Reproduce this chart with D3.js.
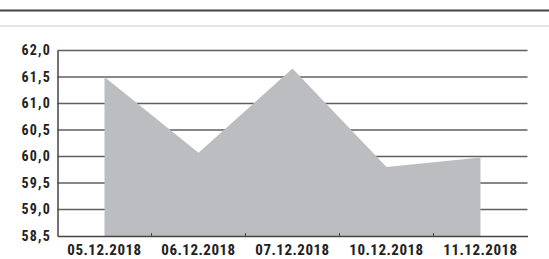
<!DOCTYPE html>
<html>
<head>
<meta charset="utf-8">
<script src="https://cdn.jsdelivr.net/npm/d3@7"></script>
<style>
  body { margin: 0; background: #fff; }
  text { font-family: "Liberation Sans Narrow", "Roboto Condensed", "DejaVu Sans Condensed", sans-serif; font-weight: bold; }
</style>
</head>
<body>
<div id="chart"></div>
<script>
var width = 549;
var height = 259;

var dates = ["05.12.2018", "06.12.2018", "07.12.2018", "10.12.2018", "11.12.2018"];
var values = [61.5, 60.07, 61.66, 59.8, 59.98];
var yTicks = [58.5, 59.0, 59.5, 60.0, 60.5, 61.0, 61.5, 62.0];

// plot box
var plotLeft = 57.5, plotRight = 527.5, plotTop = 50.5, plotBottom = 236;

var svg = d3.select("#chart").append("svg")
    .attr("width", width)
    .attr("height", height);

// header rules
svg.append("line").attr("x1", 0).attr("x2", width).attr("y1", 10.5).attr("y2", 10.5)
    .style("stroke", "#444").style("stroke-width", 2);
svg.append("line").attr("x1", 0).attr("x2", width).attr("y1", 26).attr("y2", 26)
    .style("stroke", "#ddd").style("stroke-width", 1.5);

var x = d3.scaleBand().domain(dates).range([plotLeft, plotRight]);
var y = d3.scaleLinear().domain([58.5, 62.0]).range([plotBottom, plotTop]);

// gridlines
svg.append("g").selectAll("line")
    .data(yTicks.slice(1)).enter().append("line")
    .attr("x1", plotLeft).attr("x2", plotRight)
    .attr("y1", d => y(d)).attr("y2", d => y(d))
    .style("stroke", "#5f5f5f").style("stroke-width", 1.5);

// area
var area = d3.area()
    .x((d, i) => x(dates[i]) + x.bandwidth() / 2)
    .y0(y(58.5))
    .y1(d => y(d));
svg.append("path")
    .datum(values)
    .attr("d", area)
    .style("fill", "#bcbdc0");

// y axis
var yAxis = svg.append("g")
    .attr("transform", "translate(" + plotLeft + ",0)")
    .call(d3.axisLeft(y).tickValues(yTicks).tickSize(0).tickPadding(6.5)
        .tickFormat(d => d3.format(".1f")(d).replace(".", ",")));
yAxis.select(".domain").style("stroke", "#444").style("stroke-width", 1.5);
yAxis.selectAll("text").style("font-size", "14px").style("letter-spacing", "1.2px").attr("fill", "#222");

// x axis
var xAxis = svg.append("g")
    .attr("transform", "translate(0," + plotBottom + ")")
    .call(d3.axisBottom(x).tickSize(0).tickPadding(8.5));
xAxis.select(".domain").style("stroke", "#444").style("stroke-width", 1.5);
xAxis.selectAll("text").style("font-size", "15px").style("letter-spacing", "0.5px").attr("fill", "#222");

// small ticks between bands
svg.append("g").selectAll("line")
    .data(dates.slice(1)).enter().append("line")
    .attr("x1", d => x(d)).attr("x2", d => x(d))
    .attr("y1", plotBottom - 3).attr("y2", plotBottom)
    .style("stroke", "#444").style("stroke-width", 1);
</script>
</body>
</html>
